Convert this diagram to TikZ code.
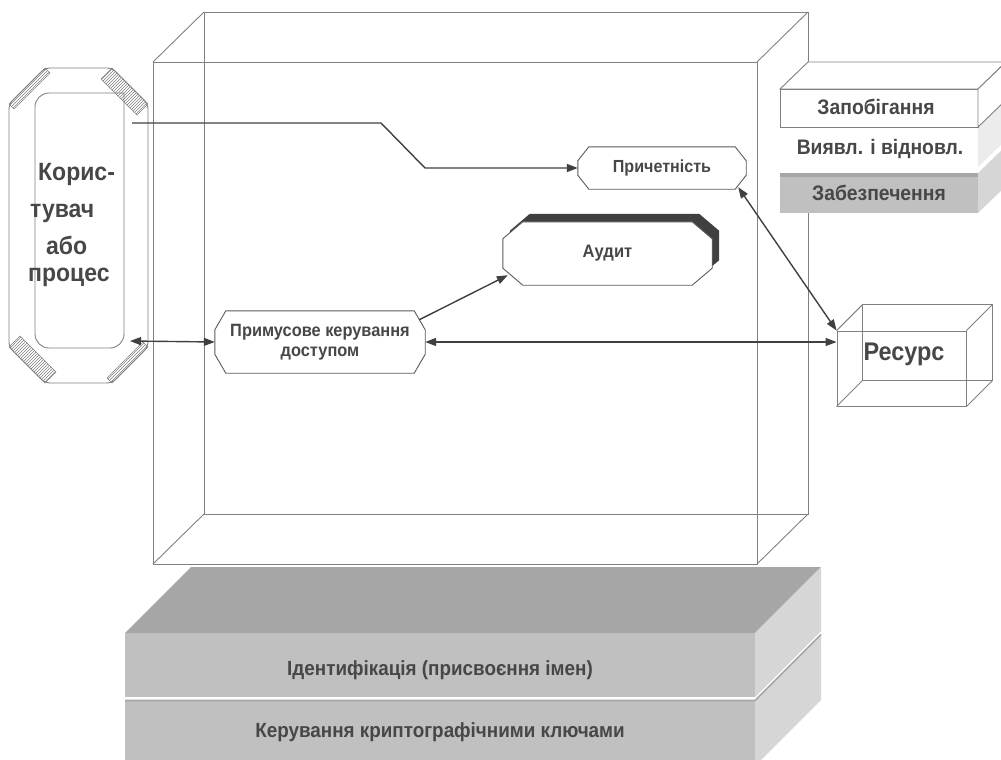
\documentclass[tikz,border=0pt]{standalone}
\usepackage{fontspec}
\setmainfont{Liberation Sans}[FakeStretch=0.92]
\usetikzlibrary{arrows.meta,patterns,calc}
\definecolor{txt}{HTML}{474747}
\definecolor{edge}{HTML}{808080}
\definecolor{oct}{HTML}{5A5A5A}
\definecolor{arrc}{HTML}{404040}
\definecolor{topgray}{HTML}{A6A6A6}
\definecolor{frontgray}{HTML}{C0C0C0}
\definecolor{sidegray}{HTML}{D6D6D6}
\definecolor{lightside}{HTML}{ECECEC}
\newcommand\fsz[2]{\fontsize{#1}{#2}\selectfont}
% octagon drawn round a node: name, chamfer x, chamfer y, draw options, extra shift
\newcommand\octbox[5]{%
  \path[#4] ([#5,xshift=#2]#1.north west) -- ([#5,xshift=-#2]#1.north east)
   -- ([#5,yshift=-#3]#1.north east) -- ([#5,yshift=#3]#1.south east)
   -- ([#5,xshift=-#2]#1.south east) -- ([#5,xshift=#2]#1.south west)
   -- ([#5,yshift=#3]#1.south west) -- ([#5,yshift=-#3]#1.north west) -- cycle;}
\tikzset{
  wire/.style={draw=edge, line width=0.9pt},
  octline/.style={draw=oct, line width=0.9pt, fill=white},
  arr/.style={draw=arrc, line width=1.4pt, -{Triangle[length=11pt,width=8pt]}},
  darr/.style={draw=arrc, line width=1.4pt, {Triangle[length=11pt,width=8pt]}-{Triangle[length=11pt,width=8pt]}},
  holder/.style={draw=none, inner sep=0pt, text=txt, font=\bfseries\fsz{17.8}{20}, align=center},
  tx/.style={text=txt, anchor=base, inner sep=0pt, font=\bfseries},
  hatch/.style={pattern=north east lines, pattern color=gray, draw=edge, line width=0.6pt},
}
\begin{document}
\begin{tikzpicture}[x=1pt,y=-1pt]
\useasboundingbox (0,0) rectangle (1001,760);
\clip (0,0) rectangle (1001,760);

% ---- big transparent box
\draw[wire] (153,62) rectangle (757,564);
\draw[wire] (204,12) rectangle (808,514);
\draw[wire] (153,62) -- (204,12) (757,62) -- (808,12) (757,564) -- (808,514) (153,564) -- (204,514);

% ---- bottom stack
\fill[frontgray] (125,700) rectangle (755,765);
\fill[sidegray] (755,700) -- (821,634) -- (821,700) -- (755,766) -- cycle;
\draw[topgray, line width=1.6pt] (125,700.5) -- (755,700.5) -- (821,634.5);
\fill[topgray] (125,633) -- (191,567) -- (821,567) -- (755,633) -- cycle;
\fill[frontgray] (125,633) rectangle (755,697);
\fill[sidegray] (755,633) -- (821,567) -- (821,631) -- (755,697) -- cycle;
\node[tx, font=\bfseries\fsz{20.5}{24}] (ident) at (440,675) {Ідентифікація (присвоєння імен)};
\node[tx, font=\bfseries\fsz{20.5}{24}] (keys) at (440,737) {Керування криптографічними ключами};

% ---- right stack
\fill[white] (780,127) rectangle (978,173);
\fill[frontgray] (780,173) rectangle (978,213);
\fill[topgray] (780,172.5) rectangle (978,177);
\fill[sidegray] (978,173) -- (1006,146) -- (1006,186) -- (978,213) -- cycle;
\fill[lightside] (978,127) -- (1006,100) -- (1006,140) -- (978,167) -- cycle;
\filldraw[fill=white, wire] (780,89) -- (808,62) -- (1006,62) -- (978,89) -- cycle;
\filldraw[fill=white, wire] (780,89) rectangle (978,127);
\filldraw[fill=white, wire] (978,89) -- (1006,62) -- (1006,100) -- (978,127) -- cycle;
\node[tx, font=\bfseries\fsz{21}{24}] (prev) at (876,114) {Запобігання};
\node[tx, font=\bfseries\fsz{21}{24}] (detect) at (880,154) {Виявл. і відновл.};
\node[tx, font=\bfseries\fsz{21}{24}] (assur) at (879,200) {Забезпечення};

% ---- user / process
\fill[hatch] (9,104) -- (45,68) -- (50,73) -- (14,109) -- cycle;
\fill[hatch] (112,68) -- (148,104) -- (137,115) -- (101,79) -- cycle;
\fill[hatch] (148,347) -- (112,383) -- (107,378) -- (143,342) -- cycle;
\fill[hatch] (45,383) -- (9,347) -- (20,336) -- (56,372) -- cycle;
\draw[wire, rounded corners=5pt] (9,104) -- (45,68) -- (112,68) -- (148,104) -- (148,347) -- (112,383) -- (45,383) -- (9,347) -- cycle;
\draw[wire] (35,220) [rounded corners=14pt]-- (35,93) [sharp corners]-- (124,93) [rounded corners=14pt]-- (124,348) -- (35,348) -- (35,220);
\node[tx, font=\bfseries\fsz{25}{30}, anchor=base west] (u1) at (38,180) {Корис-};
\node[tx, font=\bfseries\fsz{25}{30}, anchor=base west] (u2) at (30,217) {тувач};
\node[tx, font=\bfseries\fsz{25}{30}, anchor=base west] (u3) at (46,254) {або};
\node[tx, font=\bfseries\fsz{25}{30}, anchor=base west] (u4) at (28,281) {процес};
\coordinate (uout) at (132,123);
\coordinate (uin) at (130,341);

% ---- resource
\node[wire, draw=edge, minimum width=129pt, minimum height=75pt, inner sep=0pt] (res) at (901.5,368.5) {};
\draw[wire] ([xshift=26pt,yshift=26pt]res.north west) rectangle ([xshift=26pt,yshift=26pt]res.south east);
\draw[wire] (res.north west) -- ([xshift=26pt,yshift=26pt]res.north west)
            (res.north east) -- ([xshift=26pt,yshift=26pt]res.north east)
            (res.south east) -- ([xshift=26pt,yshift=26pt]res.south east)
            (res.south west) -- ([xshift=26pt,yshift=26pt]res.south west);
\node[tx, font=\bfseries\fsz{25.5}{28}, anchor=base] (restext) at (904,360) {Ресурс};

% ---- inner blocks
\node[holder, minimum width=168pt, minimum height=42pt] (prich) at (662,168) {};
\octbox{prich}{11pt}{14pt}{octline}{}
\node[holder, font=\bfseries\fsz{17.5}{20}] (prichtext) at (prich) {Причетність};

\node[holder, minimum width=209pt, minimum height=63pt] (audit) at (607.5,253.5) {};
\octbox{audit}{20pt}{17pt}{fill=arrc}{xshift=7pt,yshift=8pt}
\octbox{audit}{20pt}{17pt}{octline}{}
\node[holder, font=\bfseries\fsz{18}{20}] (audittext) at (audit) {Аудит};

\node[holder, minimum width=210pt, minimum height=62pt] (prim) at (320,342) {};
\octbox{prim}{11pt}{19pt}{octline}{}
\node[holder] (primtext) at (prim) {Примусове керування\\доступом};

% ---- connectors
\draw[arr] (uout) -- (381,123) -- (425,168) -- (prich.west);
\draw[darr] (uin) -- (prim.west);
\draw[darr] (prim.east) -- (prim.east -| res.west);
\draw[arr] ([xshift=-6pt,yshift=-9pt]prim.north east) -- ([xshift=5pt,yshift=10pt]audit.south west);
\draw[darr] ([xshift=-8pt,yshift=2pt]prich.south east) -- (res.north west);
\end{tikzpicture}
\end{document}
